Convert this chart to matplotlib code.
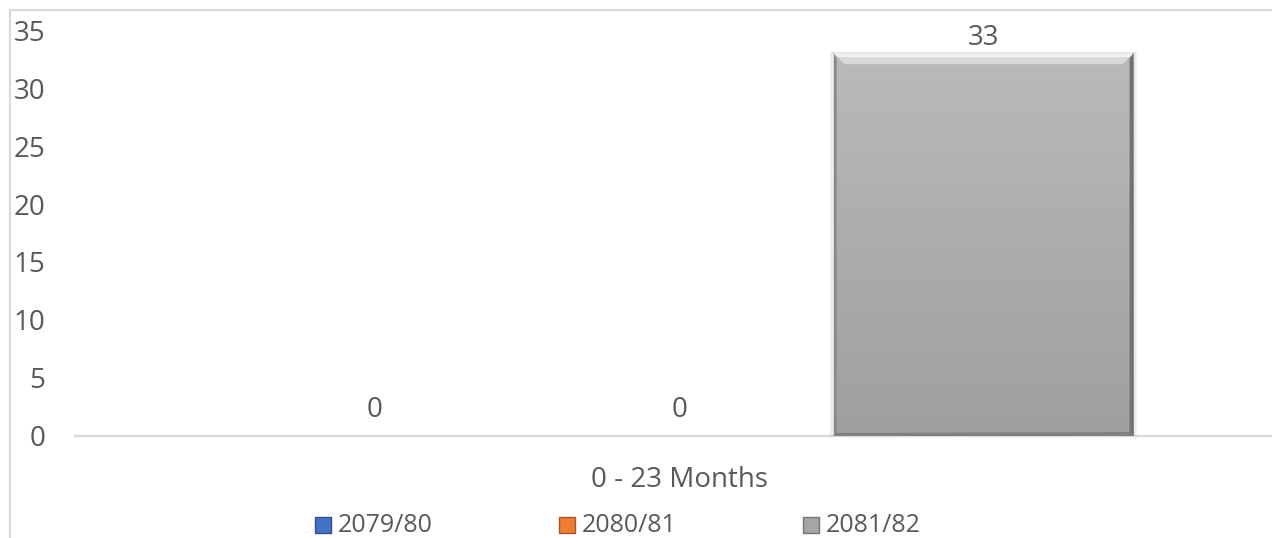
import numpy as np
import matplotlib
matplotlib.use("Agg")
import matplotlib.pyplot as plt
from matplotlib.patches import Rectangle, Polygon
from matplotlib.transforms import IdentityTransform
from matplotlib.lines import Line2D

# data
category = "0 - 23 Months"
series = ["2079/80", "2080/81", "2081/82"]
values = [0, 0, 33]
colors = ["#4472c4", "#ed7d31", "#a5a5a5"]
yticks = [0, 5, 10, 15, 20, 25, 30, 35]

W, H, DPI = 1272, 538, 100
TXT = "#595959"
GRID = "#d9d9d9"
plt.rcParams["font.family"] = ["Open Sans", "DejaVu Sans"]

fig = plt.figure(figsize=(W / DPI, H / DPI), dpi=DPI)
fig.patch.set_facecolor("white")

# axes placed in pixels: baseline at y=436, value 35 at y=30, left edge x=75
ax = fig.add_axes([75 / W, 102 / H, (W - 75) / W, 406 / H])
ax.set_facecolor("none")

x = np.arange(len(values)) - 1.0
bw = 0.985
bars = ax.bar(x, values, width=bw, color=colors, edgecolor="none", zorder=2)

ax.set_xlim(-1.984, 1.947)
ax.set_ylim(0, 35)
ax.set_yticks(yticks)
ax.set_yticklabels([str(t) for t in yticks], fontsize=20, color=TXT)
ax.tick_params(axis="y", length=0, pad=21.5)
ax.set_xticks([])
for s in ["left", "right", "top"]:
    ax.spines[s].set_visible(False)
ax.spines["bottom"].set_color(GRID)
ax.spines["bottom"].set_linewidth(1.6)
ax.spines["bottom"].set_zorder(1)

# category label under the axis
ax.annotate(category, xy=(0, 0), xycoords=("data", "axes fraction"),
            xytext=(0, -36.5), textcoords="offset points",
            ha="center", va="baseline", fontsize=20, color=TXT)

# shading / bevel on non-zero bars
ident = IdentityTransform()
cmap = matplotlib.colors.LinearSegmentedColormap.from_list("g", ["#bababa", "#9f9f9f"])
grad = np.linspace(0, 1, 256).reshape(-1, 1)
for b, v in zip(bars, values):
    if v == 0:
        continue
    im = ax.imshow(grad, cmap=cmap, aspect="auto", zorder=3, origin="upper",
                   extent=(b.get_x(), b.get_x() + b.get_width(), 0, b.get_height()))
    im.set_clip_path(b)
    bb = b.get_window_extent()
    x0, y0, x1, y1 = bb.x0, bb.y0, bb.x1, bb.y1
    # soft shadow
    for i, a in enumerate([0.07, 0.04, 0.02]):
        d = i + 1.5
        ax.add_patch(Rectangle((x0 - d, y0 - d), (x1 - x0) + 2 * d, (y1 - y0) + d,
                               transform=ident, facecolor="none", edgecolor="black",
                               alpha=a, linewidth=1.2, zorder=1.5))
    bv = 11
    # top highlight, fading down
    ax.add_patch(Polygon([(x0, y1), (x1, y1), (x1 - bv, y1 - bv), (x0 + bv, y1 - bv)],
                         closed=True, transform=ident, facecolor="#dcdcdc",
                         edgecolor="none", alpha=0.9, zorder=4))
    ax.add_patch(Polygon([(x0, y1), (x1, y1), (x1 - 4, y1 - 4), (x0 + 4, y1 - 4)],
                         closed=True, transform=ident, facecolor="#f0f0f0",
                         edgecolor="none", zorder=4))
    # right dark edge
    ax.add_patch(Polygon([(x1, y1), (x1, y0), (x1 - 4, y0 + 4), (x1 - 4, y1 - 5)],
                         closed=True, transform=ident, facecolor="#727272",
                         edgecolor="none", zorder=4))
    # left edge
    ax.add_patch(Polygon([(x0, y1), (x0, y0), (x0 + 3, y0 + 3), (x0 + 3, y1 - 5)],
                         closed=True, transform=ident, facecolor="#8a8a8a",
                         edgecolor="none", zorder=4))
    # bottom edge
    ax.add_patch(Polygon([(x0, y0), (x1, y0), (x1 - 4, y0 + 4), (x0 + 3, y0 + 3)],
                         closed=True, transform=ident, facecolor="#808080",
                         edgecolor="none", zorder=4))

# value labels
for xi, v in zip(x, values):
    off = 5.8 if v > 0 else 13.7
    ax.annotate(str(v), xy=(xi, v), xytext=(0, off), textcoords="offset points",
                ha="center", va="baseline", fontsize=20, color=TXT, zorder=5)

# legend drawn below the category label
leg_x = [315, 559, 803]
for lx, name, c in zip(leg_x, series, colors):
    rgb = np.array(matplotlib.colors.to_rgb(c))
    fig.add_artist(Rectangle((lx / W, 5 / H), 16 / W, 16 / H, transform=fig.transFigure,
                             facecolor=c, edgecolor=matplotlib.colors.to_hex(rgb * 0.7),
                             linewidth=1))
    fig.text((lx + 23) / W, 6 / H, name, ha="left", va="baseline",
             fontsize=18, color=TXT)

# chart area border (top and left, the rest is cropped)
fig.add_artist(Line2D([10 / W, 1], [1 - 10 / H, 1 - 10 / H], transform=fig.transFigure,
                      color=GRID, linewidth=1.5))
fig.add_artist(Line2D([10 / W, 10 / W], [0, 1 - 10 / H], transform=fig.transFigure,
                      color=GRID, linewidth=1.5))

fig.savefig("out.png", dpi=DPI, facecolor="white")
